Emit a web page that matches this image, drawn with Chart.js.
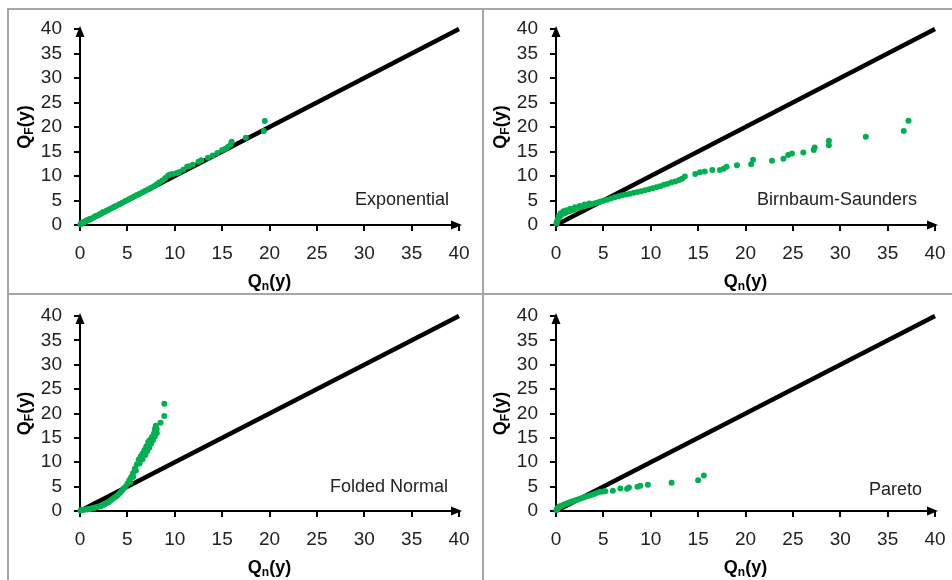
<!DOCTYPE html>
<html>
<head>
<meta charset="utf-8">
<script src="https://cdn.jsdelivr.net/npm/chart.js@4"></script>
<style>
  body{margin:0;background:#fff;width:952px;height:580px;overflow:hidden;position:relative;}
  .rule{position:absolute;background:#a6a6a6;}
  .pane{position:absolute;}
</style>
</head>
<body>
<div class="rule" style="left:7px;top:8px;width:945px;height:2px"></div>
<div class="rule" style="left:7px;top:8px;width:2px;height:572px"></div>
<div class="rule" style="left:482px;top:8px;width:2px;height:572px"></div>
<div class="rule" style="left:7px;top:293px;width:945px;height:2px"></div>

<div class="pane" style="left:9px;top:10px"><canvas id="c0" width="473" height="283"></canvas></div>
<div class="pane" style="left:484px;top:10px"><canvas id="c1" width="468" height="283"></canvas></div>
<div class="pane" style="left:9px;top:295px"><canvas id="c2" width="473" height="285"></canvas></div>
<div class="pane" style="left:484px;top:295px"><canvas id="c3" width="468" height="285"></canvas></div>

<script>
// ---- data ----
const PANEL_NAMES = ["Exponential", "Birnbaum-Saunders", "Folded Normal", "Pareto"];
const X_TITLE = ["Q", "n", "(y)"];
const Y_TITLE = ["Q", "F", "(y)"];
const AXIS_MIN = 0, AXIS_MAX = 40, AXIS_STEP = 5;
const REF_X = [0, 40];
const REF_Y = [0, 40];

const EXP_X = [0.05,0.1,0.2,0.3,0.4,0.5,0.6,0.7,0.8,0.9,1.0,1.2,1.4,1.6,1.8,2.0,2.2,2.4,2.6,2.8,3.0,3.3,3.6,3.9,4.2,4.5,4.8,5.1,5.4,5.7,6.0,6.3,6.6,6.9,7.2,7.5,7.8,8.1,8.4,8.7,9.0,9.3,9.5,9.8,10.2,10.5,10.9,11.3,11.5,11.9,12.5,12.8,13.5,14.0,14.5,15.0,15.3,15.6,15.9,16.0,17.5,19.4,19.5];
const EXP_Y = [0.1,0.3,0.4,0.4,0.6,0.7,0.7,0.9,1.0,1.0,1.2,1.3,1.5,1.8,1.9,2.1,2.3,2.6,2.7,2.9,3.1,3.4,3.7,4.0,4.3,4.6,4.9,5.2,5.5,5.8,6.1,6.4,6.7,7.0,7.3,7.6,7.9,8.3,8.7,9.1,9.6,10.1,10.3,10.4,10.6,10.8,11.3,11.9,12.0,12.3,12.9,13.2,13.7,14.2,14.7,15.3,15.5,15.9,16.4,17.0,17.8,19.2,21.2];

const BS_X = [0.05,0.1,0.15,0.2,0.3,0.4,0.5,0.6,0.7,0.8,0.9,1.0,1.2,1.4,1.6,1.8,2.0,2.3,2.6,2.9,3.2,3.5,3.8,4.1,4.4,4.7,5.0,5.4,5.8,6.2,6.6,7.0,7.4,7.8,8.2,8.6,9.0,9.4,9.8,10.2,10.6,11.0,11.4,11.8,12.2,12.6,13.0,13.3,13.6,14.7,15.2,15.7,16.5,17.3,17.7,18.0,19.1,20.6,20.8,22.8,24.0,24.5,24.9,26.1,27.2,27.3,28.8,28.8,32.7,36.7,37.2,
              0.3,0.5,0.8,1.1,1.5,2.0,2.5,3.0,3.5];
const BS_Y = [0.3,0.6,0.9,1.2,1.5,1.8,2.0,2.2,2.3,2.4,2.5,2.5,2.7,2.8,2.95,3.1,3.25,3.45,3.6,3.8,3.95,4.1,4.3,4.45,4.6,4.8,4.95,5.15,5.4,5.65,5.85,6.05,6.2,6.4,6.6,6.75,6.9,7.1,7.3,7.5,7.7,7.9,8.2,8.4,8.7,8.9,9.2,9.45,9.9,10.4,10.75,10.9,11.2,11.2,11.5,11.9,12.2,12.4,13.3,13.1,13.5,14.3,14.6,14.8,15.3,15.8,16.3,17.2,18.0,19.2,21.3,
              1.9,2.4,2.8,3.0,3.3,3.6,3.9,4.2,4.4];

const FN_X = [0.05,0.2,0.4,0.6,0.8,1.0,1.2,1.4,1.6,1.8,2.0,2.2,2.4,2.6,2.8,3.0,3.2,3.4,3.6,3.8,4.0,4.2,4.4,4.6,4.8,5.0,5.2,5.4,5.6,5.8,6.0,6.2,6.4,6.6,6.8,7.0,7.2,7.4,7.6,7.8,7.9,8.0,8.5,8.9,8.9,
              5.3,5.6,5.9,6.3,6.6,6.9,7.1,7.3,7.5,7.7,7.9,8.1,8.1];
const FN_Y = [0.1,0.2,0.25,0.3,0.35,0.4,0.5,0.6,0.7,0.8,0.9,1.0,1.2,1.4,1.6,1.8,2.1,2.4,2.7,3.0,3.3,3.7,4.1,4.6,5.0,5.6,6.3,7.0,7.8,8.7,9.6,10.5,11.2,11.8,12.5,13.3,14.2,14.6,15.2,15.9,16.8,17.5,18.1,19.5,22.0,
              5.9,7.0,8.3,9.8,10.6,11.5,12.3,13.0,13.8,14.5,15.3,16.0,16.8];

const PAR_X = [0.05,0.1,0.2,0.3,0.4,0.5,0.6,0.8,1.0,1.2,1.4,1.6,1.8,2.0,2.3,2.6,2.9,3.2,3.5,3.8,4.1,4.4,4.7,5.0,5.2,6.0,6.8,7.5,7.7,8.6,8.9,9.7,12.2,15.0,15.6];
const PAR_Y = [0.2,0.4,0.6,0.8,0.9,1.0,1.1,1.3,1.45,1.6,1.75,1.9,2.0,2.15,2.35,2.55,2.75,2.95,3.15,3.35,3.55,3.8,3.95,4.0,4.05,4.15,4.6,4.55,4.8,5.0,5.2,5.4,5.8,6.3,7.3];

const SERIES = [[EXP_X, EXP_Y], [BS_X, BS_Y], [FN_X, FN_Y], [PAR_X, PAR_Y]];

// ---- layout ----
const PANELS = [
  {id:"c0", L:9,   T:10,  W:473, H:283, area:[80, 459, 29, 225],  label:[10, 20]},
  {id:"c1", L:484, T:10,  W:468, H:283, area:[556, 935, 29, 225], label:[18, 20]},
  {id:"c2", L:9,   T:295, W:473, H:285, area:[80, 459, 316, 511], label:[11, 19]},
  {id:"c3", L:484, T:295, W:468, H:285, area:[556, 935, 316, 511], label:[13, 16]},
];
const Y_W = 40, X_H = 50;
const FONT = '"Liberation Sans", Arial, sans-serif';
const GREEN = "#00b050";
Chart.defaults.font.family = FONT;

const pts = (xs, ys) => xs.map((x, i) => ({x, y: ys[i]}));

function drawSubText(ctx, parts, cx, cy, rot){
  const big = `bold 18px ${FONT}`, small = `bold 12px ${FONT}`;
  ctx.save();
  ctx.translate(cx, cy); ctx.rotate(rot);
  ctx.font = big;  const w1 = ctx.measureText(parts[0]).width, w3 = ctx.measureText(parts[2]).width;
  ctx.font = small; const w2 = ctx.measureText(parts[1]).width;
  let x = -(w1 + w2 + w3) / 2;
  ctx.textBaseline = "middle"; ctx.fillStyle = "#000";
  ctx.font = big;   ctx.fillText(parts[0], x, 0); x += w1;
  ctx.font = small; ctx.fillText(parts[1], x, 5); x += w2;
  ctx.font = big;   ctx.fillText(parts[2], x, 0);
  ctx.restore();
}

const decor = {
  id: "decor",
  afterDraw(chart, args, opts){
    const {ctx} = chart;
    const {left, right, top, bottom} = chart.chartArea;
    ctx.save();
    ctx.fillStyle = "#000";
    ctx.beginPath(); ctx.moveTo(right + 3, bottom); ctx.lineTo(right - 8, bottom - 4.5); ctx.lineTo(right - 8, bottom + 4.5); ctx.closePath(); ctx.fill();
    ctx.beginPath(); ctx.moveTo(left, top - 3); ctx.lineTo(left - 4.5, top + 8); ctx.lineTo(left + 4.5, top + 8); ctx.closePath(); ctx.fill();
    // distribution name
    ctx.font = `18px ${FONT}`; ctx.fillStyle = "#222";
    ctx.textAlign = "right"; ctx.textBaseline = "alphabetic";
    ctx.fillText(opts.name, right - opts.dx, bottom - opts.dy);
    ctx.restore();
    drawSubText(ctx, X_TITLE, (left + right) / 2, bottom + 57, 0);
    drawSubText(ctx, Y_TITLE, left - 55, (top + bottom) / 2, -Math.PI / 2);
  }
};

const axis = (pos, pad) => ({
  type: "linear", position: pos, min: AXIS_MIN, max: AXIS_MAX,
  grid: {drawOnChartArea: false, drawTicks: true, tickLength: 6, color: "#000", lineWidth: 2},
  border: {display: true, color: "#000", width: 2},
  ticks: {stepSize: AXIS_STEP, autoSkip: false, maxRotation: 0, minRotation: 0,
          padding: pad, color: "#222", font: {size: 19}},
  afterFit: s => {
    if (pos === "left") s.width = Y_W; else s.height = X_H;
    s.paddingLeft = s.paddingRight = s.paddingTop = s.paddingBottom = 0;
  },
});

PANELS.forEach((p, i) => {
  const [aL, aR, aT, aB] = p.area;
  new Chart(document.getElementById(p.id), {
    type: "scatter",
    data: {
      datasets: [
        {data: pts(SERIES[i][0], SERIES[i][1]), pointRadius: 3, pointBackgroundColor: GREEN,
         pointBorderWidth: 0, borderWidth: 0, clip: false, order: 0},
        {type: "line", data: pts(REF_X, REF_Y), borderColor: "#000", borderWidth: 4.5,
         pointRadius: 0, fill: false, clip: false, order: 1},
      ]
    },
    options: {
      responsive: false, animation: false, events: [],
      layout: {padding: {
        left: aL - p.L - Y_W, top: aT - p.T,
        right: p.L + p.W - aR, bottom: p.T + p.H - aB - X_H
      }},
      plugins: {legend: {display: false}, tooltip: {enabled: false},
                decor: {name: PANEL_NAMES[i], dx: p.label[0], dy: p.label[1]}},
      scales: {x: axis("bottom", 11), y: axis("left", 12)},
    },
    plugins: [decor],
  });
});
</script>
</body>
</html>
